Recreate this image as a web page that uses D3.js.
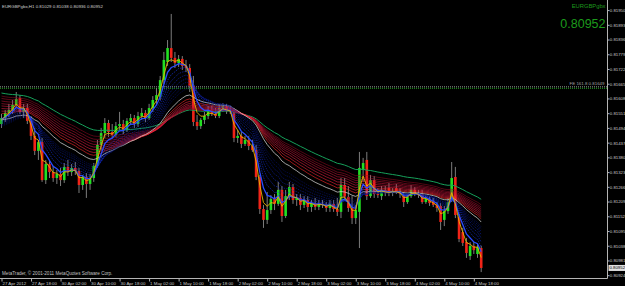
<!DOCTYPE html>
<html lang="en">
<head>
<meta charset="UTF-8">
<title>EURGBPgbx,H1</title>
<style>
    body { margin: 0; background: #000; }
    svg { display: block; }
    text { font-family: "Liberation Sans", Arial, sans-serif; }
</style>
</head>
<body>
<svg></svg>
<script src="https://d3js.org/d3.v7.min.js"></script>
<script>
    var width = 625, height = 286;
    var plotRight = 607.5, plotBottom = 278.5;

    var symbol = "EURGBPgbx,H1";
    var quoteText = "0.81029 0.81038 0.80936 0.80952";
    var bidText = "0.80952";
    var copyright = "MetaTrader, \u00a9 2001-2011 MetaQuotes Software Corp.";

    // hourly bars, 27 Apr 10:00 .. 4 May 20:00
    var opens = [0.81509,0.81532,0.81552,0.81563,0.81583,0.81610,0.81556,0.81571,0.81521,0.81463,
        0.81405,0.81439,0.81292,0.81354,0.81323,0.81300,0.81316,0.81292,0.81343,0.81323,
        0.81339,0.81327,0.81273,0.81304,0.81277,0.81300,0.81347,0.81428,0.81474,0.81513,
        0.81478,0.81467,0.81501,0.81509,0.81486,0.81521,0.81532,0.81509,0.81540,0.81552,
        0.81532,0.81571,0.81602,0.81614,0.81679,0.81749,0.81803,0.81765,0.81745,0.81761,
        0.81734,0.81726,0.81656,0.81517,0.81501,0.81525,0.81540,0.81563,0.81548,0.81540,
        0.81571,0.81579,0.81559,0.81556,0.81455,0.81463,0.81432,0.81447,0.81424,0.81408,
        0.81304,0.81180,0.81138,0.81176,0.81219,0.81200,0.81254,0.81153,0.81230,0.81265,
        0.81215,0.81223,0.81196,0.81215,0.81188,0.81203,0.81188,0.81200,0.81196,0.81184,
        0.81200,0.81180,0.81169,0.81273,0.81227,0.81184,0.81145,0.81169,0.81331,0.81370,
        0.81230,0.81292,0.81238,0.81230,0.81254,0.81261,0.81242,0.81261,0.81246,0.81230,
        0.81207,0.81230,0.81254,0.81242,0.81238,0.81207,0.81219,0.81211,0.81196,0.81192,
        0.81138,0.81172,0.81215,0.81304,0.81149,0.81091,0.81052,0.80998,0.81037,0.81006,
        0.81029];
    var highs = [0.81548,0.81563,0.81587,0.81602,0.81633,0.81621,0.81587,0.81587,0.81540,0.81494,
        0.81447,0.81455,0.81370,0.81370,0.81347,0.81331,0.81339,0.81358,0.81370,0.81354,
        0.81362,0.81339,0.81312,0.81319,0.81316,0.81358,0.81447,0.81494,0.81532,0.81525,
        0.81509,0.81517,0.81556,0.81525,0.81532,0.81548,0.81544,0.81556,0.81571,0.81563,
        0.81587,0.81617,0.81648,0.81695,0.81788,0.81834,0.81935,0.81788,0.81776,0.81772,
        0.81757,0.81741,0.81695,0.81544,0.81532,0.81556,0.81579,0.81579,0.81571,0.81587,
        0.81590,0.81587,0.81579,0.81571,0.81486,0.81478,0.81463,0.81463,0.81447,0.81428,
        0.81312,0.81196,0.81246,0.81234,0.81238,0.81285,0.81269,0.81254,0.81285,0.81277,
        0.81238,0.81238,0.81230,0.81230,0.81215,0.81223,0.81215,0.81215,0.81207,0.81215,
        0.81215,0.81223,0.81300,0.81300,0.81269,0.81230,0.81196,0.81401,0.81378,0.81401,
        0.81312,0.81308,0.81261,0.81269,0.81269,0.81281,0.81261,0.81277,0.81261,0.81246,
        0.81238,0.81273,0.81265,0.81254,0.81254,0.81230,0.81230,0.81223,0.81207,0.81203,
        0.81192,0.81223,0.81362,0.81343,0.81161,0.81107,0.81068,0.81052,0.81052,0.81045,
        0.81038];
    var lows = [0.81494,0.81517,0.81536,0.81548,0.81571,0.81548,0.81532,0.81509,0.81447,0.81389,
        0.81370,0.81285,0.81277,0.81300,0.81285,0.81277,0.81269,0.81281,0.81308,0.81308,
        0.81312,0.81242,0.81254,0.81223,0.81254,0.81285,0.81339,0.81408,0.81455,0.81459,
        0.81455,0.81459,0.81486,0.81470,0.81478,0.81505,0.81494,0.81498,0.81525,0.81517,
        0.81525,0.81556,0.81587,0.81602,0.81664,0.81734,0.81749,0.81726,0.81730,0.81718,
        0.81710,0.81633,0.81501,0.81486,0.81490,0.81509,0.81528,0.81540,0.81532,0.81532,
        0.81556,0.81548,0.81548,0.81439,0.81436,0.81416,0.81424,0.81408,0.81401,0.81292,
        0.81161,0.81107,0.81122,0.81161,0.81176,0.81192,0.81130,0.81145,0.81215,0.81200,
        0.81192,0.81176,0.81184,0.81169,0.81169,0.81176,0.81176,0.81184,0.81169,0.81169,
        0.81169,0.81153,0.81145,0.81215,0.81169,0.81122,0.81122,0.81029,0.81285,0.81215,
        0.81223,0.81223,0.81223,0.81215,0.81230,0.81230,0.81230,0.81238,0.81223,0.81188,
        0.81200,0.81223,0.81230,0.81223,0.81200,0.81200,0.81192,0.81188,0.81169,0.81099,
        0.81114,0.81161,0.81207,0.81145,0.81052,0.81037,0.80991,0.80983,0.81006,0.80991,
        0.80936];
    var closes = [0.81532,0.81552,0.81563,0.81583,0.81606,0.81556,0.81571,0.81521,0.81463,0.81405,
        0.81439,0.81292,0.81354,0.81323,0.81300,0.81316,0.81292,0.81343,0.81323,0.81339,
        0.81327,0.81273,0.81304,0.81277,0.81300,0.81347,0.81428,0.81474,0.81513,0.81478,
        0.81467,0.81501,0.81509,0.81486,0.81521,0.81532,0.81509,0.81540,0.81552,0.81532,
        0.81571,0.81602,0.81621,0.81679,0.81757,0.81803,0.81765,0.81745,0.81761,0.81734,
        0.81726,0.81656,0.81517,0.81501,0.81525,0.81540,0.81563,0.81548,0.81540,0.81571,
        0.81579,0.81559,0.81556,0.81455,0.81463,0.81432,0.81447,0.81424,0.81408,0.81304,
        0.81180,0.81138,0.81176,0.81219,0.81200,0.81254,0.81153,0.81230,0.81265,0.81215,
        0.81223,0.81196,0.81215,0.81188,0.81203,0.81188,0.81200,0.81196,0.81184,0.81200,
        0.81180,0.81169,0.81273,0.81227,0.81184,0.81145,0.81176,0.81339,0.81358,0.81230,
        0.81292,0.81238,0.81234,0.81254,0.81242,0.81242,0.81250,0.81246,0.81238,0.81207,
        0.81227,0.81254,0.81242,0.81234,0.81207,0.81219,0.81203,0.81196,0.81184,0.81130,
        0.81172,0.81207,0.81300,0.81157,0.81064,0.81049,0.81010,0.81037,0.81021,0.81033,
        0.80952];

    var tickBars = [0, 8, 16, 24, 32, 40, 48, 56, 64, 72, 80, 88, 96, 104, 112, 120, 128];
    var timeLabels = ["27 Apr 2012", "27 Apr 18:00", "30 Apr 02:00", "30 Apr 10:00", "30 Apr 18:00",
        "1 May 02:00", "1 May 10:00", "1 May 18:00", "2 May 02:00", "2 May 10:00", "2 May 18:00",
        "3 May 02:00", "3 May 10:00", "3 May 18:00", "4 May 02:00", "4 May 10:00", "4 May 18:00"];
    var priceTicks = [0.81950, 0.81893, 0.81836, 0.81779, 0.81722, 0.81665, 0.81608, 0.81551, 0.81494,
        0.81437, 0.81380, 0.81323, 0.81266, 0.81209, 0.81152, 0.81095, 0.81038, 0.80981, 0.80924];

    var feLevel = 0.81649;
    var feLabel = "FE 161.8 0.81649";

    // moving average ribbon: periods and the value each line has at the first bar
    var fastPeriod = 3, fastSeed = 0.81525;
    var bluePeriods = [5, 7, 9, 11, 13, 15, 17, 19];
    var blueSeeds = [0.81528, 0.81525, 0.81521, 0.81517, 0.81513, 0.81509, 0.81505, 0.81501];
    var whitePeriod = 24, whiteSeed = 0.81525;
    var redPeriods = [28, 31, 34, 37, 40, 43, 46, 50];
    var redSeeds = [0.81550, 0.81559, 0.81569, 0.81579, 0.81588, 0.81598, 0.81608, 0.81617];
    var greenPeriod = 60, greenSeed = 0.81629;

    var blueColors = ["#2a4cff", "#1d3ae8", "#1630d0", "#1228b8", "#0e20a2", "#0b1a8c", "#091578", "#071066"];
    var redColors = ["#ff2a2a", "#f0243a", "#e01e40", "#d0183c", "#c01438", "#ae1030", "#9c0c28", "#8a0820"];

    var svg = d3.select("svg").attr("width", width).attr("height", height);
    svg.append("rect").attr("width", width).attr("height", height).attr("fill", "#000");

    var xScale = d3.scaleLinear().domain([0, 130]).range([1.5, 481.2]);
    var yScale = d3.scaleLinear().domain([0.809131, 0.81989]).range([278, 0]);

    function ema(period, seed) {
        var k = 2 / (period + 1), out = [seed];
        for (var i = 1; i < closes.length; i++) {
            out.push(out[i - 1] + k * (closes[i] - out[i - 1]));
        }
        return out;
    }

    var line = d3.line().x(function (d, i) { return xScale(i); }).y(function (d) { return yScale(d); });

    // FE level
    svg.append("line").attr("x1", 0).attr("x2", plotRight).attr("y1", yScale(feLevel) - 1).attr("y2", yScale(feLevel) - 1)
        .attr("stroke", "#9a9a9a").attr("stroke-dasharray", "1,1");
    svg.append("line").attr("x1", 0).attr("x2", plotRight).attr("y1", yScale(feLevel) + 0.5).attr("y2", yScale(feLevel) + 0.5)
        .attr("stroke", "#1c9a1c").attr("stroke-dasharray", "1,1");
    svg.append("text").attr("x", plotRight - 3).attr("y", yScale(feLevel) - 2.5).attr("text-anchor", "end")
        .attr("font-size", 4.4).attr("fill", "#a0a0a0").text(feLabel);

    // candles
    var bars = d3.range(closes.length);
    var candles = svg.append("g");
    candles.selectAll("line").data(bars).enter().append("line")
        .attr("x1", function (i) { return xScale(i); })
        .attr("x2", function (i) { return xScale(i); })
        .attr("y1", function (i) { return yScale(highs[i]); })
        .attr("y2", function (i) { return yScale(lows[i]); })
        .attr("stroke", "#9c9c9c").attr("stroke-width", 0.8);
    candles.selectAll("rect").data(bars).enter().append("rect")
        .attr("x", function (i) { return xScale(i) - 1.3; })
        .attr("width", 2.6)
        .attr("y", function (i) { return yScale(Math.max(opens[i], closes[i])); })
        .attr("height", function (i) { return Math.max(1, Math.abs(yScale(opens[i]) - yScale(closes[i]))); })
        .attr("fill", function (i) { return closes[i] >= opens[i] ? "#22e022" : "#f02418"; });

    // ribbon
    var ribbon = svg.append("g").attr("fill", "none");
    ribbon.append("path").attr("d", line(ema(greenPeriod, greenSeed))).attr("stroke", "#16a05a").attr("stroke-width", 1);
    redPeriods.slice().reverse().forEach(function (p, j) {
        var i = redPeriods.length - 1 - j;
        ribbon.append("path").attr("d", line(ema(p, redSeeds[i]))).attr("stroke", redColors[i]).attr("stroke-width", 0.6);
    });
    ribbon.append("path").attr("d", line(ema(whitePeriod, whiteSeed))).attr("stroke", "#c8c8c8").attr("stroke-width", 0.8);
    bluePeriods.slice().reverse().forEach(function (p, j) {
        var i = bluePeriods.length - 1 - j;
        ribbon.append("path").attr("d", line(ema(p, blueSeeds[i]))).attr("stroke", blueColors[i])
            .attr("stroke-width", i === 0 ? 1.3 : 0.6)
            .attr("stroke-dasharray", i === 0 ? null : "1.5,1");
    });
    ribbon.append("path").attr("d", line(ema(fastPeriod, fastSeed))).attr("stroke", "#e6b400").attr("stroke-width", 0.9);

    // axes
    var priceAxis = d3.axisRight(yScale).tickValues(priceTicks).tickSize(2).tickSizeOuter(0).tickFormat(d3.format(".5f"));
    var pa = svg.append("g").attr("transform", "translate(" + plotRight + ",0)").call(priceAxis);
    pa.select(".domain").attr("stroke", "#b4b4b4").attr("d", "M0,0V" + plotBottom);
    pa.selectAll(".tick line").attr("stroke", "#b4b4b4");
    pa.selectAll(".tick text").attr("x", 2.3).attr("fill", "#c8c8c8").attr("font-size", 4.3)
        .attr("font-family", "Liberation Sans, Arial, sans-serif");

    var timeAxis = d3.axisBottom(xScale).tickValues(tickBars).tickSize(3).tickSizeOuter(0)
        .tickFormat(function (d, i) { return timeLabels[i]; });
    var ta = svg.append("g").attr("transform", "translate(0," + plotBottom + ")").call(timeAxis);
    ta.select(".domain").attr("stroke", "#b4b4b4").attr("d", "M0,0H" + plotRight);
    ta.selectAll(".tick line").attr("stroke", "#b4b4b4");
    ta.selectAll(".tick text").attr("x", 0.5).attr("y", 3.5).attr("text-anchor", "start").attr("fill", "#c8c8c8").attr("font-size", 4.4)
        .attr("font-family", "Liberation Sans, Arial, sans-serif");

    // bid box
    var yb = yScale(closes[closes.length - 1]);
    svg.append("rect").attr("x", plotRight + 1).attr("y", yb - 3).attr("width", 17).attr("height", 6).attr("fill", "#e0e0e0");
    svg.append("text").attr("x", plotRight + 2).attr("y", yb).attr("dy", "0.32em").attr("font-size", 4.3).attr("fill", "#000").text(bidText);

    // header texts
    svg.append("text").attr("x", 2).attr("y", 7.5).attr("font-size", 4.4).attr("fill", "#d0d0d0")
        .text(symbol + "  " + quoteText);
    svg.append("text").attr("x", plotRight - 2).attr("y", 8).attr("text-anchor", "end").attr("font-size", 5.8)
        .attr("fill", "#1c9a1c").text(symbol.split(",")[0]);
    svg.append("text").attr("x", plotRight - 2).attr("y", 27.5).attr("text-anchor", "end").attr("font-size", 12.5)
        .attr("fill", "#1c9a1c").text(bidText);
    svg.append("text").attr("x", 2).attr("y", 275).attr("font-size", 4.6).attr("fill", "#c0c0c0").text(copyright);
</script>
</body>
</html>
